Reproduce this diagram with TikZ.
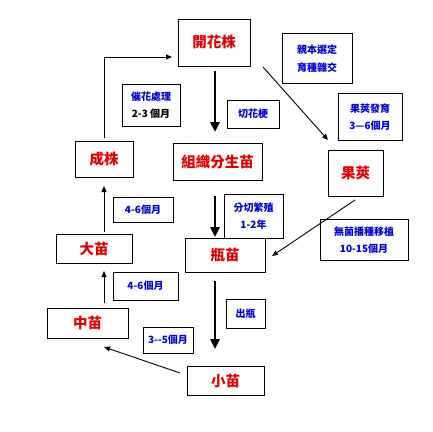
\documentclass[tikz,border=0pt]{standalone}
\usepackage{fontspec}
\newfontfamily\cjk{Noto Sans CJK TC}
\usetikzlibrary{arrows.meta}
\definecolor{myred}{RGB}{230,0,0}
\definecolor{myblue}{RGB}{0,0,220}
\begin{document}
\begin{tikzpicture}[x=1pt,y=-1pt,
  bx/.style={draw=black,line width=0.9pt,fill=white,inner sep=0pt,align=center},
  stage/.style={bx,text=myred,font=\cjk\bfseries\fontsize{14.5}{16}\selectfont},
  note/.style={bx,text=myblue,font=\cjk\bfseries\fontsize{10}{17.5}\selectfont},
  thick arr/.style={line width=2.6pt,-{Triangle[length=10pt,width=9pt]}},
  thin arr/.style={line width=0.9pt,-{Triangle[length=6pt,width=5pt]}}]
\useasboundingbox (0,0) rectangle (433,431);
\fill[white] (0,0) rectangle (433,431);
% stage boxes
\node[stage,minimum width=72pt,minimum height=47pt] (kaihua) at (214,42.5) {開花株};
\node[stage,minimum width=89pt,minimum height=37pt] (zuzhi) at (217.5,161.5) {組織分生苗};
\node[stage,minimum width=55pt,minimum height=46pt] (guojia) at (355.5,173) {果莢};
\node[stage,minimum width=58pt,minimum height=36pt] (chengzhu) at (104,159) {成株};
\node[stage,minimum width=80pt,minimum height=34pt] (pingmiao) at (225,255) {瓶苗};
\node[stage,minimum width=76pt,minimum height=29pt] (damiao) at (94,248.5) {大苗};
\node[stage,minimum width=81pt,minimum height=30pt] (zhongmiao) at (87.5,323) {中苗};
\node[stage,minimum width=77pt,minimum height=29pt] (xiaomiao) at (225.5,380.5) {小苗};
% note boxes
\node[note,minimum width=70pt,minimum height=50pt] (qinben) at (317,58.5) {親本選定\\育種雜交};
\node[note,minimum width=64pt,minimum height=47pt] (fayu) at (370,117) {果莢發育\\3—6個月};
\node[note,minimum width=58pt,minimum height=42pt] (cuihua) at (151,105) {催花處理\\{\color{black}2-3 個月}};
\node[note,minimum width=52pt,minimum height=28pt] (geng) at (253,114) {切花梗};
\node[note,minimum width=59pt,minimum height=44pt] (fenqie) at (253.5,216) {分切繁殖\\1-2年};
\node[note,minimum width=88pt,minimum height=41pt] (wujun) at (364,240) {無菌播種移植\\10-15個月};
\node[note,minimum width=60pt,minimum height=25pt] (ma) at (143,209.5) {4-6個月};
\node[note,minimum width=65pt,minimum height=28pt] (mb) at (145.5,286) {4-6個月};
\node[note,minimum width=50pt,minimum height=26pt] (mc) at (168,340) {3--5個月};
\node[note,minimum width=39pt,minimum height=29pt] (chuping) at (245.5,313.5) {出瓶};
% thick arrows
\coordinate (t1) at (215,71);
\coordinate (t2) at (215,132);
\coordinate (t3) at (215,196);
\coordinate (t4) at (215,237);
\coordinate (t5) at (215,281);
\coordinate (t6) at (215,349);
\draw[thick arr] (t1) -- (t2);
\draw[thick arr] (t3) -- (t4);
\draw[thick arr] (t5) -- (t6);
% thin arrows
\coordinate (k1) at (263,67);
\coordinate (g1) at (328,140);
\draw[thin arr] (k1) -- (g1);
\coordinate (g2) at (355,200);
\coordinate (p1) at (272,256);
\draw[thin arr] (g2) -- (p1);
\coordinate (x1) at (180,373);
\coordinate (z1) at (104,347);
\draw[thin arr] (x1) -- (z1);
\coordinate (z2) at (104,303);
\coordinate (d1) at (104,271);
\draw[thin arr] (z2) -- (d1);
\coordinate (d2) at (104,232);
\coordinate (c1) at (104,186);
\draw[thin arr] (d2) -- (c1);
\coordinate (c2) at (104,138);
\coordinate (k2) at (172,57);
\draw[thin arr] (c2) -- (104,57) -- (k2);
\end{tikzpicture}
\end{document}
